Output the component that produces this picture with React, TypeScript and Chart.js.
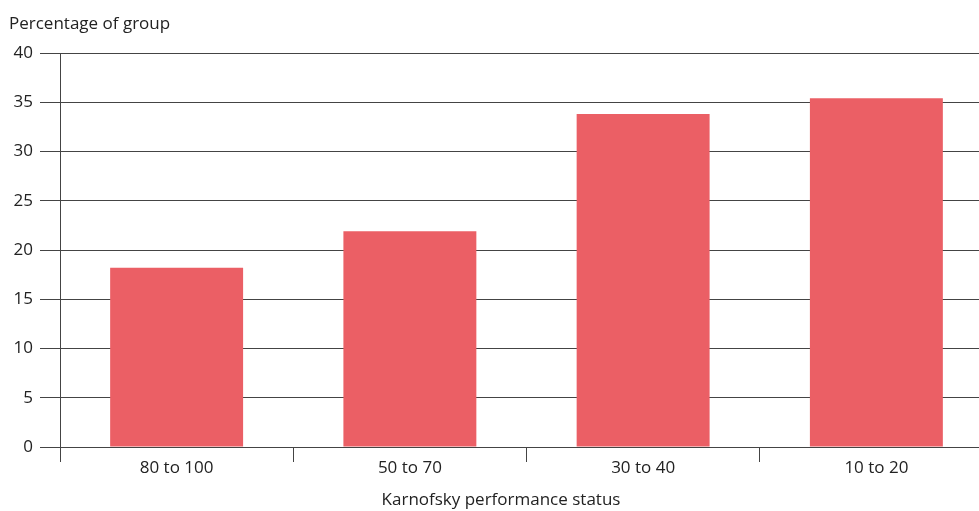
import React, { useEffect, useRef } from "react";
import { Chart, registerables } from "chart.js";

Chart.register(...registerables);

const categories = ["80 to 100", "50 to 70", "30 to 40", "10 to 20"];
const percentages = [18.2, 21.9, 33.8, 35.4];
const yTitle = "Percentage of group";
const xTitle = "Karnofsky performance status";

const FONT = "'Open Sans', 'Noto Sans', sans-serif";
const GRID = "#444444";
const TEXT = "#222222";

export default function App() {
  const ref = useRef<HTMLCanvasElement | null>(null);

  useEffect(() => {
    const canvas = ref.current;
    if (!canvas) return;
    const chart = new Chart(canvas, {
      type: "bar",
      data: {
        labels: categories,
        datasets: [
          {
            data: percentages,
            backgroundColor: "#EB5F65",
            borderWidth: 0,
            barPercentage: 0.57,
            categoryPercentage: 1,
          },
        ],
      },
      options: {
        animation: false,
        responsive: false,
        maintainAspectRatio: false,
        layout: { padding: { left: 9, right: 2, top: 0, bottom: 0 } },
        plugins: {
          legend: { display: false },
          tooltip: { enabled: false },
          title: {
            display: true,
            text: yTitle,
            align: "start",
            color: TEXT,
            font: { family: FONT, size: 17, weight: "normal", lineHeight: 1.2 },
            padding: { top: 14, bottom: 18.6 },
          },
          subtitle: {
            display: true,
            text: xTitle,
            position: "bottom",
            align: "center",
            color: TEXT,
            font: { family: FONT, size: 17, weight: "normal", lineHeight: 1.2 },
            padding: { top: 10, bottom: 0.6 },
          },
        },
        scales: {
          x: {
            offset: true,
            grid: {
              offset: true,
              drawOnChartArea: false,
              drawTicks: true,
              tickLength: 15,
              color: GRID,
              lineWidth: 1,
            },
            border: { display: true, color: GRID, width: 1 },
            ticks: {
              color: TEXT,
              font: { family: FONT, size: 17 },
              padding: -4,
            },
            afterFit: (scale: any) => {
              scale.height = 33;
            },
          },
          y: {
            min: 0,
            max: 40,
            ticks: {
              stepSize: 5,
              color: TEXT,
              font: { family: FONT, size: 17 },
              padding: 7,
            },
            grid: {
              color: GRID,
              lineWidth: 1,
              tickLength: 20,
              drawTicks: true,
            },
            border: { display: true, color: GRID, width: 1 },
            afterFit: (scale: any) => {
              scale.width = 51;
            },
          },
        },
      },
    });
    return () => chart.destroy();
  }, []);

  return (
    <div style={{ position: "fixed", left: 0, top: 0, width: 979, height: 511, overflow: "hidden", background: "#fff" }}>
      <canvas ref={ref} width={995} height={511} style={{ display: "block", width: 995, height: 511 }} />
    </div>
  );
}
